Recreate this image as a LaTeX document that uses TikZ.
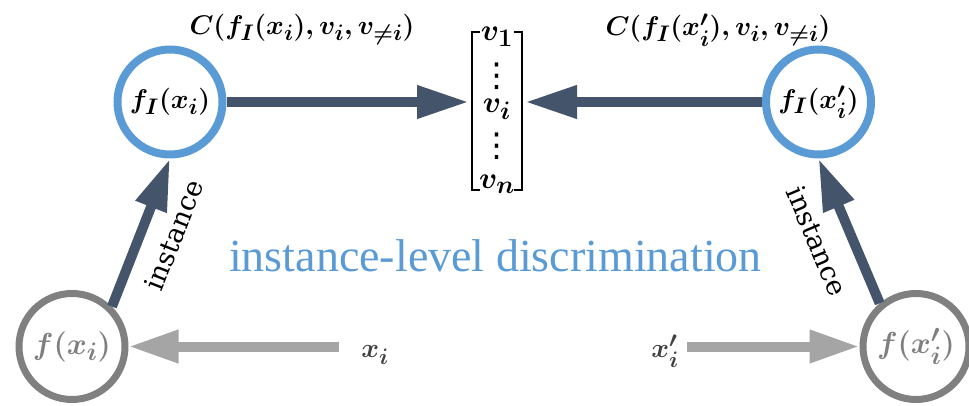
\documentclass[tikz,border=0pt]{standalone}
\usepackage{amsmath}
\usepackage{graphicx}
\usepackage{fontspec}
\setmainfont{Liberation Serif}
\newfontfamily\slabfont{DejaVu Serif}
\newfontfamily\symfont{DejaVu Sans}
\usetikzlibrary{arrows.meta}
\definecolor{darkarrow}{HTML}{44546A}
\definecolor{ringblue}{HTML}{5B9BD5}
\definecolor{ringgray}{HTML}{808080}
\definecolor{arrowgray}{HTML}{A5A5A5}
\definecolor{labelgray}{HTML}{404040}
\definecolor{textgray}{HTML}{7F7F7F}
\newcommand\bmath[1]{\scalebox{1.085}{\fontsize{24.88}{30}\selectfont\boldmath$#1$}}
\newcommand\gmath[1]{\scalebox{1.22}{\fontsize{24.88}{30}\selectfont\boldmath$#1$}}
\newcommand\vmath[1]{\scalebox{1.22}{\fontsize{24.88}{30}\selectfont\boldmath$#1$}}
\tikzset{
  bluering/.style={circle, draw=ringblue, line width=8pt, minimum size=105pt, inner sep=0pt},
  grayring/.style={circle, draw=ringgray, line width=7pt, minimum size=106pt, inner sep=0pt},
  bigarrow/.style={draw=darkarrow, line width=10pt, -{Triangle[length=52pt,width=31pt]}},
  lightarrow/.style={draw=arrowgray, line width=10pt, -{Triangle[length=50pt,width=31pt]}},
  graylbl/.style={text=textgray},
  instlbl/.style={font=\slabfont\fontsize{27}{31}\selectfont, text=black, sloped},
  matentry/.style={inner sep=0pt},
  dotsentry/.style={inner sep=0pt, font=\symfont\fontsize{33}{35}\selectfont},
}
\begin{document}
\begin{tikzpicture}[x=1pt, y=-1pt]
\useasboundingbox (0,0) rectangle (969,406);
\begin{scope}
\clip (0,0) rectangle (969,406);
% circles
\node[bluering] (fIl) at (170,102) {\bmath{f_I(x_i)}};
\node[bluering] (fIr) at (818.5,102) {\bmath{f_I(x_i')}};
\node[grayring, graylbl] (fxl) at (72,346.5) {\gmath{f(x_i)}};
\node[grayring, graylbl] (fxr) at (916,346.5) {\gmath{f(x_i')}};
\end{scope}
% matrix
\node[rectangle, minimum width=50pt, minimum height=158pt, inner sep=0pt, outer sep=0pt] (mat) at (497,111) {};
\draw[line width=2.2pt] ([xshift=8pt]mat.north west) -- (mat.north west) -- (mat.south west) -- ([xshift=8pt]mat.south west);
\draw[line width=2.2pt] ([xshift=-8pt]mat.north east) -- (mat.north east) -- (mat.south east) -- ([xshift=-8pt]mat.south east);
\node[matentry] (v1) at (497,37) {\vmath{v_1}};
\node[dotsentry] (d1) at (497,76) {⋮};
\node[matentry] (vi) at (497,109) {\vmath{v_i}};
\node[dotsentry] (d2) at (497,146) {⋮};
\node[matentry] (vn) at (497,184) {\vmath{v_n}};
% top labels
\node (cl) at (302,30) {\bmath{C(f_I(x_i),v_i,v_{\neq i})}};
\node (cr) at (718,30) {\bmath{C(f_I(x_i'),v_i,v_{\neq i})}};
% inputs
\node[text=labelgray] (xi) at (375,355) {\bmath{x_i}};
\node[text=labelgray] (xr) at (665,351) {\bmath{x_i'}};
% title
\node[text=ringblue, font=\fontsize{46}{50}\selectfont, anchor=base, inner sep=0pt] (title) at (495.5,271) {instance-level discrimination};
% arrows
\draw[bigarrow, shorten >=3pt] (fIl.east) -- (fIl.east -| mat.west);
\draw[bigarrow, shorten >=3pt] (fIr.west) -- (fIr.west -| mat.east);
\draw[bigarrow] (fxl.45) -- node[instlbl, below=13pt, pos=0.56] {instance} (fIl.south);
\draw[bigarrow] (fxr.130) -- node[instlbl, below=15pt, pos=0.52] {instance} (fIr.south);
\draw[lightarrow, shorten <=19pt] (xi.west |- fxl.east) -- (fxl.east);
\draw[lightarrow, shorten <=5pt] (xr.east |- fxr.west) -- (fxr.west);
\end{tikzpicture}
\end{document}
